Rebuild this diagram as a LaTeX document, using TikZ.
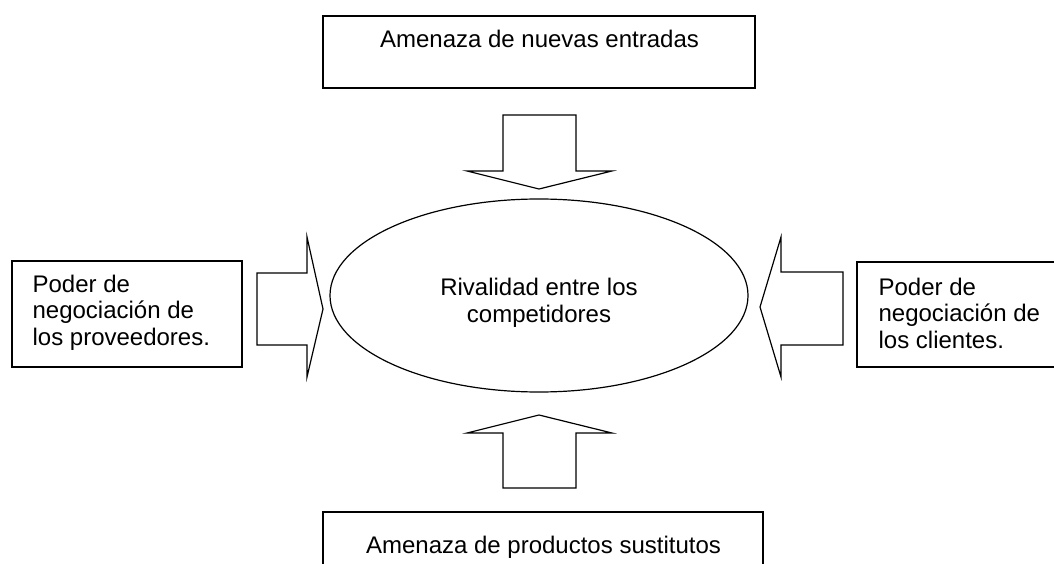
\documentclass[tikz,border=0pt]{standalone}
\usepackage{fontspec}
\setmainfont{Liberation Sans}
\usetikzlibrary{shapes.geometric}
\begin{document}
\begin{tikzpicture}[x=1pt,y=-1pt,line width=1.2pt,
  box/.style={draw, rectangle, inner sep=0pt},
  lbl/.style={font=\fontsize{24}{26.5}\selectfont, inner sep=0pt},
  blk/.style={draw, line join=miter, fill=white}]
\useasboundingbox (0,0) rectangle (1054,564);
\clip (0,0) rectangle (1054,564);
% boxes
\node[box, minimum width=432pt, minimum height=72pt] (top) at (539,52) {};
\node[box, minimum width=230pt, minimum height=106pt] (left) at (127,314) {};
\node[box, minimum width=213pt, minimum height=105pt] (right) at (963.5,314.5) {};
\node[box, minimum width=440pt, minimum height=60pt] (bottom) at (543,542) {};
\node[draw, ellipse, inner sep=0pt, minimum width=418pt, minimum height=193pt] (riv) at (539,295.5) {};
% texts
\node[lbl, anchor=base] (ttop) at (539.5,48) {Amenaza de nuevas entradas};
\node[lbl, anchor=base] (tbot) at (543.5,553) {Amenaza de productos sustitutos};
\node[lbl, anchor=base west, align=left] (tleft) at (32,345) {Poder de\\negociación de\\los proveedores.};
\node[lbl, anchor=base west, align=left] (tright) at (878,348) {Poder de\\negociación de\\los clientes.};
\node[lbl, anchor=base, align=center] (triv) at (539,322) {Rivalidad entre los\\competidores};
% block arrows
\draw[blk] (503,115) -- (576,115) -- (576,171) -- (612,171) -- (539,189) -- (467,171) -- (503,171) -- cycle;
\draw[blk] (539,415) -- (612,433) -- (576,433) -- (576,488) -- (503,488) -- (503,433) -- (467,433) -- cycle;
\draw[blk] (257,273) -- (307,273) -- (307,237) -- (323,309) -- (307,377) -- (307,345) -- (257,345) -- cycle;
\draw[blk] (843,272) -- (781,272) -- (781,237) -- (760,307) -- (781,377) -- (781,345) -- (843,345) -- cycle;
\end{tikzpicture}
\end{document}
